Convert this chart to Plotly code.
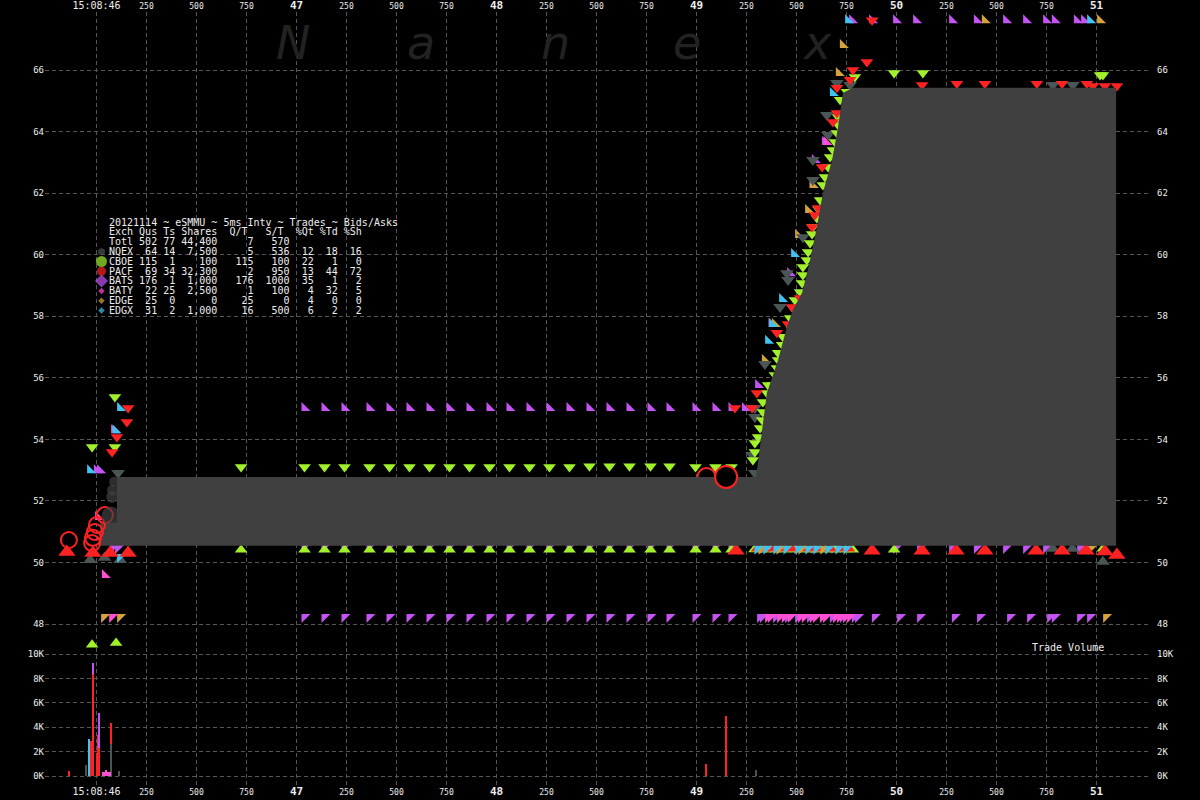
import plotly.graph_objects as go

# ============================ DATA ============================
# time axis: milliseconds after 15:08:46.000
TICK_MS = [0, 250, 500, 750, 1000, 1250, 1500, 1750, 2000, 2250, 2500, 2750,
           3000, 3250, 3500, 3750, 4000, 4250, 4500, 4750, 5000]
TICK_TXT = ["15:08:46", "250", "500", "750", "47", "250", "500", "750", "48", "250", "500", "750",
            "49", "250", "500", "750", "50", "250", "500", "750", "51"]
PRICE_TICKS = [48, 50, 52, 54, 56, 58, 60, 62, 64, 66]
VOL_TICKS = [0, 2000, 4000, 6000, 8000, 10000]
VOL_TXT = ["0K", "2K", "4K", "6K", "8K", "10K"]

# summary table
EXCH = ["NQEX", "CBOE", "PACF", "BATS", "BATY", "EDGE", "EDGX"]
QUS = [64, 115, 69, 176, 22, 25, 31]
TS = [14, 1, 34, 1, 25, 0, 2]
SHARES = [7500, 100, 32300, 1000, 2500, 0, 1000]
QT = [5, 115, 2, 176, 1, 25, 16]
ST = [536, 100, 950, 1000, 100, 0, 500]
PQT = [12, 22, 13, 35, 4, 4, 6]
PTD = [18, 1, 44, 1, 32, 0, 2]
PSH = [16, 0, 72, 2, 5, 0, 2]
TOTAL = dict(qus=502, ts=77, shares=44400, qt=7, st=570)

# quote update times of the steady period (ms)
ROW_T = [1040, 1140, 1240, 1365, 1465, 1565, 1665, 1765, 1865, 1965, 2065,
         2165, 2265, 2365, 2465, 2565, 2665, 2770, 2865, 2995, 3095, 3175]

# CBOE asks (down triangles)
cboe_ask_t = [-22, 92, 92, 723] + ROW_T + [
    3282, 3292, 3292, 3308, 3318, 3328, 3332, 3332, 3352, 3358,
    3382, 3392, 3402, 3408, 3408, 3428, 3432, 3478, 3468, 3482,
    3492, 3518, 3528, 3532, 3532, 3552, 3558, 3568, 3578, 3582,
    3602, 3610, 3618, 3632, 3642, 3658, 3668, 3682, 3692, 3702, 3708,
    3708, 3718, 3752, 3792,
    3988, 4132, 5018, 5032]
cboe_ask_p = [53.75, 53.75, 55.38, 53.10,
              53.10, 53.10, 53.10, 53.10, 53.10, 53.10, 53.10, 53.10, 53.10, 53.10, 53.10,
              53.10, 53.10, 53.10, 53.13, 53.13, 53.13, 53.13, 53.13, 53.10, 53.10, 53.10,
              53.33, 53.59, 53.88, 54.08, 54.37, 54.63, 54.89, 55.21, 55.51, 55.77,
              55.77, 56.09, 56.32, 56.58, 56.81, 57.07, 57.33, 57.55, 57.94, 58.27,
              58.53, 58.79, 59.08, 59.34, 59.60, 59.83, 60.09, 60.38, 60.67, 60.90,
              61.19, 61.48, 61.78, 62.26, 62.52, 62.85, 63.17, 63.40, 63.66, 63.95, 64.21,
              64.47, 65.03, 65.29, 65.77,
              65.90, 65.90, 65.84, 65.84]

# CBOE bids (up triangles)
cboe_bid_t = [-22, 98, 723] + ROW_T + [
    3290, 3320, 3345, 3370, 3395, 3420, 3445, 3470, 3495, 3520, 3545,
    3570, 3595, 3620, 3645, 3670, 3695, 3720, 3745, 3782, 3988, 5032]
cboe_bid_p = [47.33, 47.38, 50.41] + [
    50.41, 50.41, 50.41, 50.41, 50.41, 50.41, 50.41, 50.41, 50.41, 50.41, 50.41,
    50.41, 50.41, 50.41, 50.41, 50.41, 50.41, 50.41, 50.41, 50.41, 50.41, 50.41] + [
    50.42, 50.42, 50.42, 50.42, 50.42, 50.42, 50.42, 50.42, 50.42, 50.42, 50.42,
    50.42, 50.42, 50.42, 50.42, 50.42, 50.42, 50.42, 50.42, 50.41, 50.41, 50.45]

# PACF asks
pacf_ask_t = [158, 152, 102, 78, 3192, 3278, 3302, 3402, 3458, 3478, 3518, 3578, 3592, 3608,
              3628, 3682, 3702, 3702, 3768, 3782, 3852, 3878,
              4128, 4302, 4442, 4702, 4828, 4952, 4982, 5042, 5102]
pacf_ask_p = [55.02, 54.56, 54.08, 53.59, 55.02, 55.02, 55.51, 57.46, 57.75, 58.30, 58.59, 60.90, 61.29, 61.52,
              62.85, 64.31, 64.60, 65.42, 65.68, 66.00, 66.26, 67.62,
              65.51, 65.55, 65.55, 65.55, 65.55, 65.55, 65.48, 65.48, 65.48]

# PACF bids: isolated (large markers) and inside the busy stretch
pacf_bid_t = [-148, -18, 68, 158, 3198, 3878, 4128, 4298, 4442, 4698, 4828, 4948, 5042, 5102]
pacf_bid_p = [50.34, 50.31, 50.31, 50.31, 50.38, 50.38, 50.38, 50.38, 50.38, 50.38, 50.38, 50.38, 50.36, 50.24]
pacf_bid_busy_t = [3300, 3340, 3385, 3430, 3480, 3530, 3575, 3625, 3675, 3720, 3765]
pacf_bid_busy_p = [50.44, 50.44, 50.44, 50.44, 50.44, 50.44, 50.44, 50.44, 50.44, 50.44, 50.44]

# NQEX asks / bids
nqex_ask_t = [108, 3292, 3278, 3292, 3292, 3342, 3418, 3458, 3452, 3532, 3582, 3582, 3658, 3652,
              3702, 3768, 4782, 4882]
nqex_ask_p = [52.91, 52.91, 53.49, 54.73, 55.02, 56.45, 58.30, 59.18, 59.40, 60.57, 62.43, 63.08, 63.89, 64.54,
              65.58, 65.51, 65.51, 65.51]
nqex_bid_t = [-32, 118, 40, 3312, 3455, 3610, 4782, 4880, 5032]
nqex_bid_p = [50.08, 50.08, 50.15, 50.45, 50.45, 50.45, 50.45, 50.45, 50.02]

# BATS asks / bids (half triangles)
bats_ask_t = ROW_T + [3242, 2, 18, 3308, 3468, 3592, 3642,
                      3778, 3878, 3998, 4098, 4278, 4402, 4548, 4648, 4748, 4792, 4902, 4938]
bats_ask_p = [55.02, 55.02, 55.02, 55.02, 55.02, 55.02, 55.02, 55.02, 55.02, 55.02, 55.02,
              55.02, 55.02, 55.02, 55.02, 55.02, 55.02, 55.02, 55.02, 55.02, 55.02, 55.02,
              55.02, 53.00, 53.00, 55.77, 59.40, 63.08, 63.66,
              67.62, 67.62, 67.62, 67.62, 67.62, 67.62, 67.62, 67.62, 67.62, 67.62, 67.62, 67.62]
bats_bid_low_t = ROW_T + [3318, 3332, 3398, 3458, 3508, 3568, 3682, 3732, 3792, 3808, 3892,
                          4018, 4118, 4292, 4418, 4568, 4668, 4768, 4792, 4918, 4968]
bats_bid_low_p = [
    48.23, 48.23, 48.23, 48.23, 48.23, 48.23, 48.23, 48.23, 48.23, 48.23, 48.23,
    48.23, 48.23, 48.23, 48.23, 48.23, 48.23, 48.23, 48.23, 48.23, 48.23, 48.23,
    48.23, 48.23, 48.23, 48.23, 48.23, 48.23, 48.23, 48.23, 48.23, 48.23, 48.23,
    48.23, 48.23, 48.23, 48.23, 48.23, 48.23, 48.23, 48.23, 48.23, 48.23]
bats_bid_high_t = ROW_T + [82, 108, 3998, 4118, 4278, 4402, 4548, 4648, 4748, 4918,
                           3335, 3420, 3505, 3590, 3690]
bats_bid_high_p = [50.50, 50.50, 50.50, 50.50, 50.50, 50.50, 50.50, 50.50, 50.50, 50.50, 50.50,
                   50.50, 50.50, 50.50, 50.50, 50.50, 50.50, 50.50, 50.50, 50.50, 50.50, 50.50,
                   50.47, 50.47, 50.47, 50.47, 50.47, 50.47, 50.47, 50.47, 50.47, 50.47,
                   50.47, 50.47, 50.47, 50.47, 50.47]

# BATY
baty_ask_t = [8, 42, 88, 3375, 3580, 3650]
baty_ask_p = [51.48, 49.59, 54.30, 57.75, 62.26, 63.66]
baty_bid_t = [78, 3358, 3372, 3418, 3442, 3472, 3522, 3542, 3582, 3598, 3632, 3648, 3698, 3718, 3748, 3768]
baty_bid_p = [48.23, 48.23, 48.23, 48.23, 48.23, 48.23, 48.23, 48.23, 48.23, 48.23, 48.23, 48.23,
              48.23, 48.23, 48.23, 48.23]

# EDGE
edge_ask_t = [3732, 3712, 3582, 3558, 3508, 3392, 3342, 4442, 5018]
edge_ask_p = [66.81, 65.90, 62.26, 61.45, 60.64, 57.75, 56.58, 67.62, 67.62]
edge_bid_t = [38, 118, 5048, 3325, 3415, 3525, 3635, 4972]
edge_bid_p = [48.23, 48.23, 48.23, 50.45, 50.45, 50.45, 50.45, 50.45]

# EDGX
edgx_ask_t = [118, 95, -32, 3682, 3488, 3428, 3358, 3378, 3758, 4968]
edgx_ask_p = [55.02, 54.30, 53.00, 65.25, 60.02, 58.56, 57.20, 57.75, 67.62, 67.62]
edgx_bid_t = [118, 3305, 3350, 3400, 3450, 3510, 3560, 3600, 3660, 3710, 3750]
edgx_bid_p = [50.18, 50.45, 50.45, 50.45, 50.45, 50.45, 50.45, 50.45, 50.45, 50.45, 50.45]

# trades
pacf_trade_t = [42, 2, -8, -18, -22, -138]
pacf_trade_p = [51.54, 51.22, 50.99, 50.80, 50.63, 50.73]
pacf_trade_hidden_t = [3050]
pacf_trade_hidden_p = [52.78]
pacf_trade_big_t = [3148]
pacf_trade_big_p = [52.78]
nqex_trade_t = [72, 78, 80, 88]
nqex_trade_p = [51.51, 52.13, 52.35, 52.62]

# shaded band (outline)
band_t = [18, 18, 102, 102, 3298, 3352, 3408, 3452, 3482, 3528, 3568, 3602, 3632,
          3678, 3708, 3732, 3782, 5098, 5098]
band_p = [50.545, 51.29, 51.29, 52.78, 52.78, 55.51, 56.58, 57.65, 58.20, 58.76, 59.83, 60.90, 62.00,
          63.08, 64.15, 65.25, 65.42, 65.42, 50.545]

# trade volume (shares)
nqex_vol_t = [-50, -35, 74, 114, 3300]
nqex_vol = [900, 1000, 2600, 400, 500]
pacf_vol_t = [-138, -28, -16, 2, 8, 15, 74, 3050, 3148]
pacf_vol = [400, 2900, 8400, 1900, 3400, 2300, 1750, 1000, 4900]
bats_vol_t = [-16, 15]
bats_vol = [900, 2900]
baty_vol_t = [32, 40, 48, 56, 64, 70]
baty_vol = [300, 300, 500, 300, 300, 300]
edgx_vol_t = [-38]
edgx_vol = [3000]

# ============================ STYLE ============================
COL = dict(NQEX="#4a5555", CBOE="#a2f02c", PACF="#ff2222", BATS="#c354f2",
           BATY="#ff4fd2", EDGE="#d6a23c", EDGX="#3ec4f0")
GRID = "#555555"
TXT = "#eeeeee"
BAND = "#404040"
FONT = "DejaVu Sans Mono"

# pixel geometry of the plotting area
PL, PR, PT, PB = 45, 1150, 12, 786
SPLIT = 648
X_RANGE = [(PL - 96.5) * 5, (PR - 96.5) * 5]
PRICE_RANGE = [66 - (SPLIT - 70) / 30.78, 66 + (70 - PT) / 30.78]
VOL_RANGE = [-(PB - 776) / 12.2 * 1000, (776 - SPLIT) / 12.2 * 1000]
DOM = (PB - SPLIT) / (PB - PT)

fig = go.Figure()


def quotes(t, p, color, symbol, size):
    fig.add_trace(go.Scatter(x=t, y=p, mode="markers", hoverinfo="skip",
                             marker=dict(color=color, symbol=symbol, size=size, line_width=0),
                             xaxis="x", yaxis="y"))


HALF = 10
quotes(bats_bid_low_t, bats_bid_low_p, COL["BATS"], "triangle-nw", HALF)
quotes(baty_bid_t, baty_bid_p, COL["BATY"], "triangle-nw", HALF)
quotes(bats_bid_high_t, bats_bid_high_p, COL["BATS"], "triangle-nw", HALF)
quotes(nqex_bid_t, nqex_bid_p, COL["NQEX"], "triangle-up", 12)
quotes(cboe_bid_t, cboe_bid_p, COL["CBOE"], "triangle-up", 11)
quotes(pacf_bid_busy_t, pacf_bid_busy_p, COL["PACF"], "triangle-up", 10)
quotes(edge_bid_t, edge_bid_p, COL["EDGE"], "triangle-nw", HALF)
quotes(edgx_bid_t, edgx_bid_p, COL["EDGX"], "triangle-nw", HALF)
quotes(pacf_bid_t, pacf_bid_p, COL["PACF"], "triangle-up", 15)
quotes(bats_ask_t, bats_ask_p, COL["BATS"], "triangle-sw", HALF)
quotes(baty_ask_t, baty_ask_p, COL["BATY"], "triangle-sw", HALF)
quotes(edge_ask_t, edge_ask_p, COL["EDGE"], "triangle-sw", HALF)
quotes(edgx_ask_t, edgx_ask_p, COL["EDGX"], "triangle-sw", HALF)
quotes(nqex_ask_t, nqex_ask_p, COL["NQEX"], "triangle-down", 12)
quotes(cboe_ask_t, cboe_ask_p, COL["CBOE"], "triangle-down", 11)
quotes(pacf_ask_t, pacf_ask_p, COL["PACF"], "triangle-down", 11)

# trade partly hidden by band
fig.add_trace(go.Scatter(x=pacf_trade_hidden_t, y=pacf_trade_hidden_p, mode="markers", hoverinfo="skip",
                         marker=dict(symbol="circle", size=18, color="black",
                                     line=dict(color=COL["PACF"], width=2))))
# band
fig.add_trace(go.Scatter(x=band_t, y=band_p, mode="lines", fill="toself", fillcolor=BAND,
                         line=dict(width=0, color=BAND), hoverinfo="skip"))
# trades
fig.add_trace(go.Scatter(x=pacf_trade_t, y=pacf_trade_p, mode="markers", hoverinfo="skip",
                         marker=dict(symbol="circle-open", size=16, color=COL["PACF"],
                                     line=dict(color=COL["PACF"], width=2))))
fig.add_trace(go.Scatter(x=pacf_trade_big_t, y=pacf_trade_big_p, mode="markers", hoverinfo="skip",
                         marker=dict(symbol="circle", size=22, color="black",
                                     line=dict(color=COL["PACF"], width=2))))
fig.add_trace(go.Scatter(x=nqex_trade_t, y=nqex_trade_p, mode="markers", hoverinfo="skip",
                         marker=dict(symbol="circle", size=[19, 12, 11, 10], color=BAND, line_width=0)))

# volume bars (stacked)
for t, v, c in [(nqex_vol_t, nqex_vol, COL["NQEX"]), (pacf_vol_t, pacf_vol, COL["PACF"]),
                (bats_vol_t, bats_vol, COL["BATS"]), (baty_vol_t, baty_vol, COL["BATY"]),
                (edgx_vol_t, edgx_vol, COL["EDGX"])]:
    fig.add_trace(go.Bar(x=t, y=v, width=9, marker=dict(color=c, line_width=0),
                         xaxis="x", yaxis="y2", hoverinfo="skip"))

# legend markers (pixel overlay axes)
leg_sym = ["circle", "circle", "circle", "diamond", "diamond", "diamond", "diamond"]
leg_size = [7, 11, 9, 10, 5, 5, 5]
LEG_Y0 = 251.7
LEG_DY = 9.8
fig.add_trace(go.Scatter(x=[101.5] * len(EXCH), y=[LEG_Y0 + LEG_DY * i for i in range(len(EXCH))],
                         mode="markers", xaxis="x3", yaxis="y5", hoverinfo="skip",
                         marker=dict(symbol=leg_sym, size=leg_size, color=[COL[e] for e in EXCH],
                                     line_width=0)))

# dummy traces to activate secondary axes
fig.add_trace(go.Scatter(x=[0], y=[60], xaxis="x2", yaxis="y", mode="markers", marker_opacity=0,
                         hoverinfo="skip"))
fig.add_trace(go.Scatter(x=[0], y=[60], xaxis="x", yaxis="y3", mode="markers", marker_opacity=0,
                         hoverinfo="skip"))
fig.add_trace(go.Scatter(x=[0], y=[0], xaxis="x", yaxis="y4", mode="markers", marker_opacity=0,
                         hoverinfo="skip"))

# ---------------------------- text ----------------------------
NB = "\u00a0"
lines = ["20121114 ~ eSMMU ~ 5ms Intv ~ Trades ~ Bids/Asks",
         "Exch Qus Ts Shares  Q/T   S/T  %Qt %Td %Sh",
         f"Totl {TOTAL['qus']:>3} {TOTAL['ts']:>2} {TOTAL['shares']:>6,}{TOTAL['qt']:>6}{TOTAL['st']:>6}"]
for i, e in enumerate(EXCH):
    lines.append(f"{e:<4} {QUS[i]:>3} {TS[i]:>2} {SHARES[i]:>6,}{QT[i]:>6}{ST[i]:>6}"
                 f"{PQT[i]:>4}{PTD[i]:>4}{PSH[i]:>4}")

annotations = []
for i, ln in enumerate(lines):
    annotations.append(dict(x=107, y=222 + LEG_DY * i, xref="x3", yref="y5", text=ln.replace(" ", NB),
                            showarrow=False, xanchor="left", yanchor="middle",
                            font=dict(family=FONT, size=10, color=TXT)))

for ch, xp in zip("Nanex", [293, 421, 555, 687, 817]):
    annotations.append(dict(x=xp, y=72, xref="x3", yref="y5", text=f"<i>{ch}</i>", showarrow=False,
                            xanchor="center", yanchor="bottom",
                            font=dict(family="DejaVu Sans", size=46, color="#222222")))

annotations.append(dict(x=1068, y=647, xref="x3", yref="y5", text="Trade" + NB + "Volume", showarrow=False,
                        xanchor="center", yanchor="middle", font=dict(family=FONT, size=10, color=TXT)))


def fmt_tick(s):
    if ":" in s:
        return f"<span style='font-size:10px'>{s}</span>"
    if len(s) == 2:
        return f"<span style='font-size:11px'><b>{s}</b></span>"
    return s


xt = [fmt_tick(s) for s in TICK_TXT]
xcommon = dict(range=X_RANGE, tickmode="array", tickvals=TICK_MS, ticktext=xt, ticks="",
               tickfont=dict(family=FONT, size=8, color=TXT), zeroline=False, showline=False,
               automargin=False)
ycommon_p = dict(range=PRICE_RANGE, tickmode="array", tickvals=PRICE_TICKS,
                 ticktext=[str(v) for v in PRICE_TICKS], ticks="",
                 tickfont=dict(family=FONT, size=9, color=TXT), zeroline=False, showline=False,
                 automargin=False)
ycommon_v = dict(range=VOL_RANGE, tickmode="array", tickvals=VOL_TICKS, ticktext=VOL_TXT, ticks="",
                 tickfont=dict(family=FONT, size=9, color=TXT), zeroline=False, showline=False,
                 automargin=False)
gridkw = dict(showgrid=True, gridcolor=GRID, griddash="4px,3px", gridwidth=1)

fig.update_layout(
    width=1200, height=800, autosize=False,
    margin=dict(l=PL, r=1200 - PR, t=PT, b=800 - PB, pad=0, autoexpand=False),
    paper_bgcolor="black", plot_bgcolor="black",
    showlegend=False, barmode="stack", bargap=0,
    font=dict(family=FONT, color=TXT, size=9),
    xaxis=dict(domain=[0, 1], anchor="y2", side="bottom", **xcommon, **gridkw),
    xaxis2=dict(overlaying="x", anchor="y", side="top", showgrid=False, **xcommon),
    yaxis=dict(domain=[DOM, 1], anchor="x", side="left", **ycommon_p, **gridkw),
    yaxis3=dict(overlaying="y", anchor="x", side="right", showgrid=False, ticklabelstandoff=6, **ycommon_p),
    yaxis2=dict(domain=[0, DOM], anchor="x", side="left", **ycommon_v, **gridkw),
    yaxis4=dict(overlaying="y2", anchor="x", side="right", showgrid=False, ticklabelstandoff=6, **ycommon_v),
    xaxis3=dict(overlaying="x", anchor="y5", range=[PL, PR], visible=False, automargin=False),
    yaxis5=dict(overlaying="y", anchor="x3", range=[SPLIT, PT], visible=False, automargin=False),
    annotations=annotations,
)

fig.write_html("out.html")
